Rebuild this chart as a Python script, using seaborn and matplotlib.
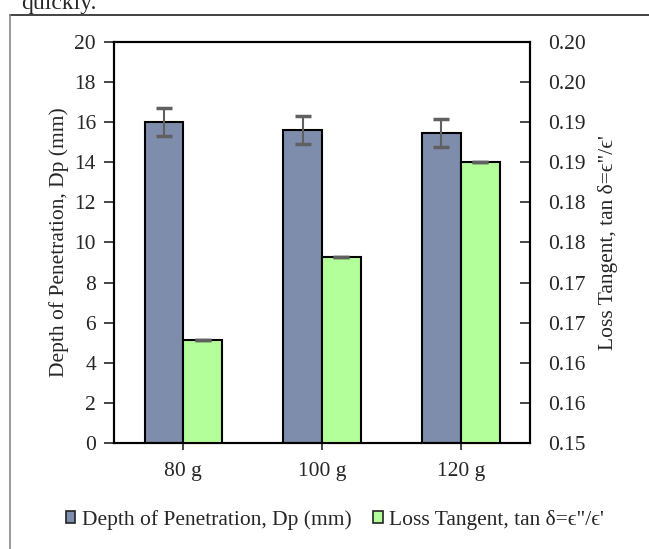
import pandas as pd
import seaborn as sns
import matplotlib.pyplot as plt
from matplotlib.patches import Patch
from matplotlib.lines import Line2D

# Data
masses = ['80 g', '100 g', '120 g']
depth_mm = [16.0, 15.6, 15.45]
depth_err = [0.7, 0.7, 0.7]
loss_tangent = [0.1628, 0.1732, 0.1850]
loss_err = [0.0, 0.0, 0.0]
right_ticks = [0.150, 0.155, 0.160, 0.165, 0.170, 0.175, 0.180, 0.185, 0.190, 0.195, 0.200]
right_tick_labels = ['0.15', '0.16', '0.16', '0.17', '0.17', '0.18', '0.18',
                     '0.19', '0.19', '0.20', '0.20']

dp_name = 'Depth of Penetration, Dp (mm)'
lt_name = "Loss Tangent, tan \u03b4=\u03f5\"/\u03f5'"
series_order = [dp_name, lt_name]
colors = {dp_name: '#7f8dad', lt_name: '#b3ff99'}

dp_df = pd.DataFrame({'Mass': masses, 'Value': depth_mm, 'Series': dp_name})
lt_df = pd.DataFrame({'Mass': masses, 'Value': loss_tangent, 'Series': lt_name})

sns.set_style('white')
plt.rcParams['font.family'] = ['Liberation Serif', 'DejaVu Serif']
plt.rcParams['font.size'] = 15.5

fig = plt.figure(figsize=(6.49, 5.49), dpi=100)
ax = fig.add_axes([0.1757, 0.1931, 0.641, 0.7304])
ax2 = ax.twinx()

bar_kw = dict(x='Mass', y='Value', hue='Series', hue_order=series_order,
              palette=colors, order=masses, width=0.56, saturation=1, dodge=True,
              edgecolor='black', linewidth=1.5, errorbar=None, legend=False)
sns.barplot(data=dp_df, ax=ax, **bar_kw)
sns.barplot(data=lt_df, ax=ax2, **bar_kw)

# error bars at the bar centres
err_kw = dict(fmt='none', ecolor='#606060', elinewidth=1.5, capsize=6, capthick=2.5, zorder=5)
dp_x = [p.get_x() + p.get_width() / 2 for p in ax.patches]
ax.errorbar(dp_x, depth_mm, yerr=depth_err, **err_kw)
lt_x = [p.get_x() + p.get_width() / 2 for p in ax2.patches]
ax2.errorbar(lt_x, loss_tangent, yerr=loss_err, **err_kw)

ax.set_xlim(-0.5, 2.5)
ax.set_ylim(0, 20)
ax.set_yticks(range(0, 21, 2))
ax2.set_ylim(0.15, 0.20)
ax2.set_yticks(right_ticks)
ax2.set_yticklabels(right_tick_labels)

ax.set_xlabel('')
ax.set_ylabel(dp_name, labelpad=4)
ax2.set_ylabel(lt_name, labelpad=9)

for a in (ax, ax2):
    for s in a.spines.values():
        s.set_color('black')
        s.set_linewidth(1.5)
ax.tick_params(axis='y', direction='out', length=7, width=1.2, left=True, pad=6)
ax.tick_params(axis='x', direction='out', length=5, width=1.2, bottom=True, pad=9)
ax2.tick_params(axis='y', direction='in', length=7, width=1.2, right=True, pad=13)

handles = [Patch(facecolor=colors[s], edgecolor='#222222', linewidth=1.2) for s in series_order]
fig.legend(handles, series_order, loc='center', bbox_to_anchor=(0.516, 0.053), ncol=2,
           frameon=False, handlelength=0.45, handleheight=0.45, handletextpad=0.3,
           columnspacing=1.0, fontsize=15.5)

# surrounding page frame and cut-off text above it
fig.add_artist(Line2D([10 / 649, 1], [1 - 15 / 549, 1 - 15 / 549], color='#222222', lw=1.2))
fig.add_artist(Line2D([10 / 649, 10 / 649], [0, 1 - 15 / 549], color='#888888', lw=1.2))
fig.text(21 / 649, 1 - 9 / 549, 'quickly.', fontsize=17, va='baseline', ha='left')

plt.savefig('out.png', dpi=100)
